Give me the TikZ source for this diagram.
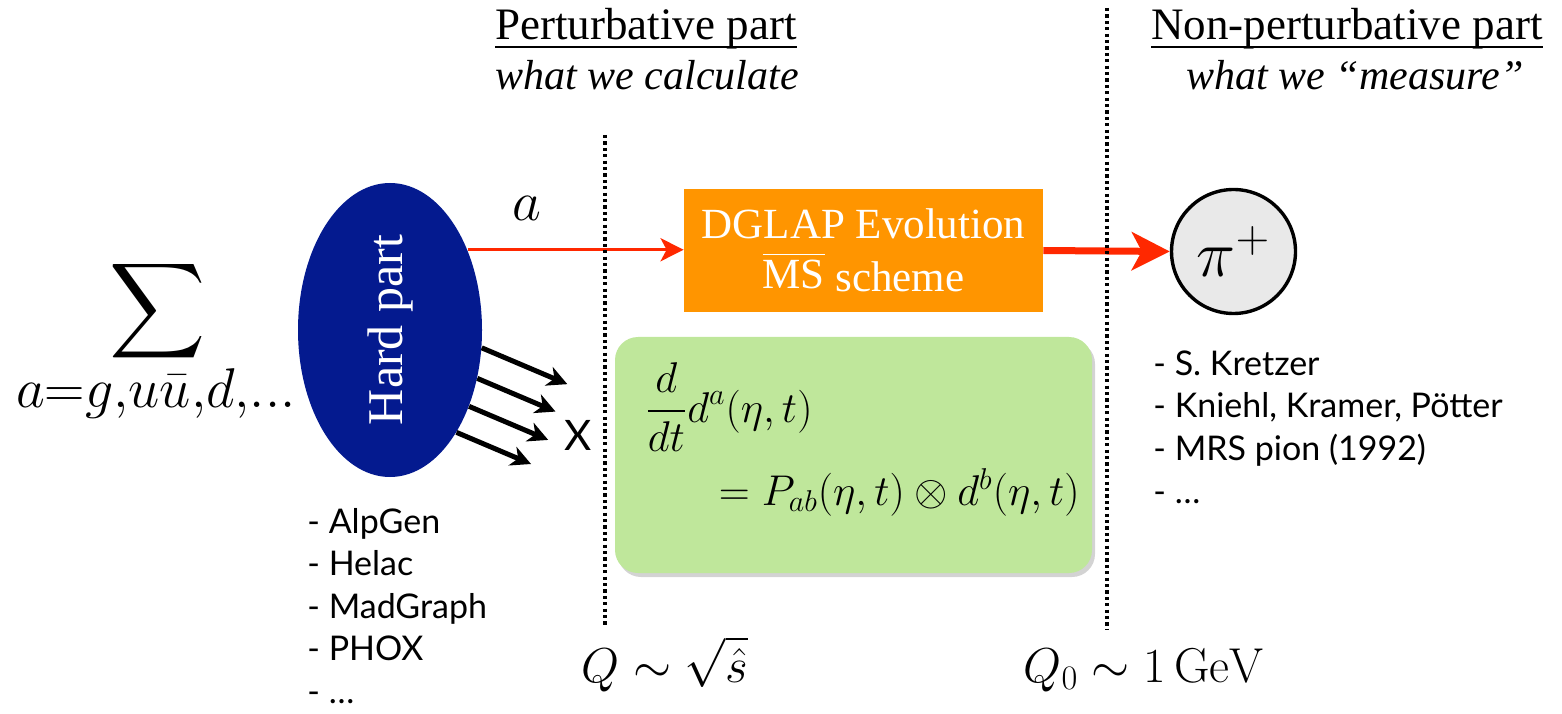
\RequirePackage{fix-cm}
\documentclass[tikz,border=0pt]{standalone}
\usepackage{amsmath}
\usepackage[no-math]{fontspec}
\setmainfont{Liberation Serif}
\newfontfamily\gillfont{Lato}
\usepackage{tikz}
\usetikzlibrary{arrows.meta, calc, shapes.geometric, shadows}

\definecolor{hardblue}{RGB}{4,26,143}
\definecolor{evored}{RGB}{255,40,0}
\definecolor{evoorange}{RGB}{255,149,0}
\definecolor{eqgreen}{RGB}{191,231,155}
\definecolor{piongray}{RGB}{233,233,233}

\tikzset{
    cutline/.style={line width=1.6pt, dash pattern=on 1.6pt off 1.6pt},
    headline/.style={inner sep=0pt, anchor=base, font=\fontsize{22.5}{27}\selectfont},
    subline/.style={inner sep=0pt, anchor=base, font=\fontsize{21}{25}\selectfont\itshape},
    listitem/.style={inner sep=0pt, anchor=base west, font=\gillfont\fontsize{17}{20}\selectfont},
    mathbig/.style={inner sep=0pt, anchor=base, font=\fontsize{24.5}{29}\selectfont},
    jetarrow/.style={line width=2.5pt, -{Stealth[length=10pt, width=10pt, inset=3pt]}},
    evoarrow/.style={color=evored, line width=1.7pt, -{Stealth[length=11.5pt, width=11.5pt, inset=3pt]}},
    bigevoarrow/.style={color=evored, line width=3.5pt, -{Stealth[length=19pt, width=19pt, inset=5pt]}}
}

\begin{document}
\begin{tikzpicture}[x=0.5pt, y=0.5pt]
    \useasboundingbox (0,0) rectangle (1562,713);

    % --- 1. 標題 ---
    \node[headline] (perthead) at (646,673) {Perturbative part};
    \draw[line width=1.2pt] ([yshift=-3.5pt]perthead.base west) -- ([yshift=-3.5pt]perthead.base east);
    \node[subline] (pertsub) at (647,623) {what we calculate};
    \node[headline] (npthead) at (1347,673) {Non-perturbative part};
    \draw[line width=1.2pt] ([yshift=-3.5pt]npthead.base west) -- ([yshift=-3.5pt]npthead.base east);
    \node[subline] (nptsub) at (1355,623) {what we ``measure''};

    % --- 2. 求和 ---
    \node[inner sep=0pt, font=\fontsize{24.88}{30}\selectfont] (sumsign) at (157.5,401.5)
          {\scalebox{1.34}{$\displaystyle\sum$}};
    \node[inner sep=0pt, anchor=base, font=\fontsize{40}{48}\selectfont] (sumidx) at (156,306) {$\scriptstyle a=g,u\bar{u},d,\ldots$};

    % --- 3. Hard part 與噴注 ---
    \node[ellipse, fill=hardblue, minimum width=92pt, minimum height=147pt, inner sep=0pt] (hard) at (390,383) {};
    \node[rotate=90, text=white, font=\fontsize{25}{30}\selectfont] (hardtxt) at (hard.center) {Hard part};
    \foreach \ang/\len [count=\i] in {-11/93, -29/85, -44.5/86, -57.5/81} {
        \coordinate (jet\i) at ($(hard.\ang)+(-23:\len)$);
        \draw[jetarrow] (hard.\ang) -- (jet\i);
    }
    \node[inner sep=0pt, font=\gillfont\fontsize{21}{25}\selectfont] (xmark) at (578,278) {X};

    % --- 4. DGLAP 演化與 pi ---
    \node[inner sep=0pt, font=\fontsize{28}{34}\selectfont] (alabel) at (527,505) {$a$};
    \node[fill=evoorange, minimum width=179.5pt, minimum height=61.5pt, text=white, align=center,
          font=\fontsize{21.5}{25}\selectfont] (dglap) at (863.5,462.5)
          {DGLAP Evolution\\$\overline{\mbox{MS}}$ \raisebox{-1.5pt}{scheme}};
    \node[circle, draw, line width=1.7pt, fill=piongray, minimum size=62pt, inner sep=0pt,
          font=\fontsize{33}{40}\selectfont] (pion) at (1233.5,461.5) {$\pi^+$};
    \draw[evoarrow] (hard.46) -- (hard.46 -| dglap.west);
    \draw[bigevoarrow] (dglap.east) -- (pion.west);

    % --- 5. 演化方程 ---
    \node[fill=eqgreen, rounded corners=11.5pt, minimum width=238.5pt, minimum height=118pt,
          drop shadow={shadow xshift=1.5pt, shadow yshift=-2pt, opacity=0.35}] (eqbox) at (853.5,258) {};
    \node[inner sep=0pt, anchor=base west, font=\fontsize{21.5}{26}\selectfont] (eqtop) at (645,291)
          {$\displaystyle\frac{d}{dt}d^a(\eta,t)$};
    \node[inner sep=0pt, anchor=base east, font=\fontsize{21.5}{26}\selectfont] (eqbot) at (1080,208)
          {$=P_{ab}(\eta,t)\otimes d^b(\eta,t)$};

    % --- 6. 列表 ---
    \foreach \gen [count=\i] in {AlpGen, Helac, MadGraph, PHOX, \ldots}
        \node[listitem] (gen\i) at (307,{180-(\i-1)*42.5}) {- \gen};
    \foreach \src [count=\i] in {S. Kretzer, {Kniehl, Kramer, Pötter}, MRS pion (1992), \ldots}
        \node[listitem] (src\i) at (1153,{338-(\i-1)*42.7}) {- \src};

    % --- 7. 標度 ---
    \node[mathbig] (qhard) at (665,31) {$Q\sim\sqrt{\hat{s}}$};
    \node[mathbig] (qzero) at (1144,31) {$Q_0\sim1\,\mathrm{GeV}$};

    % --- 8. 分隔虛線 ---
    \coordinate (cutAtop) at (605,578);
    \coordinate (cutAbot) at (605,88);
    \coordinate (cutBtop) at (1107,705);
    \coordinate (cutBbot) at (1107,83);
    \draw[cutline] (cutAtop) -- (cutAbot);
    \draw[cutline] (cutBtop) -- (cutBbot);

\end{tikzpicture}
\end{document}
